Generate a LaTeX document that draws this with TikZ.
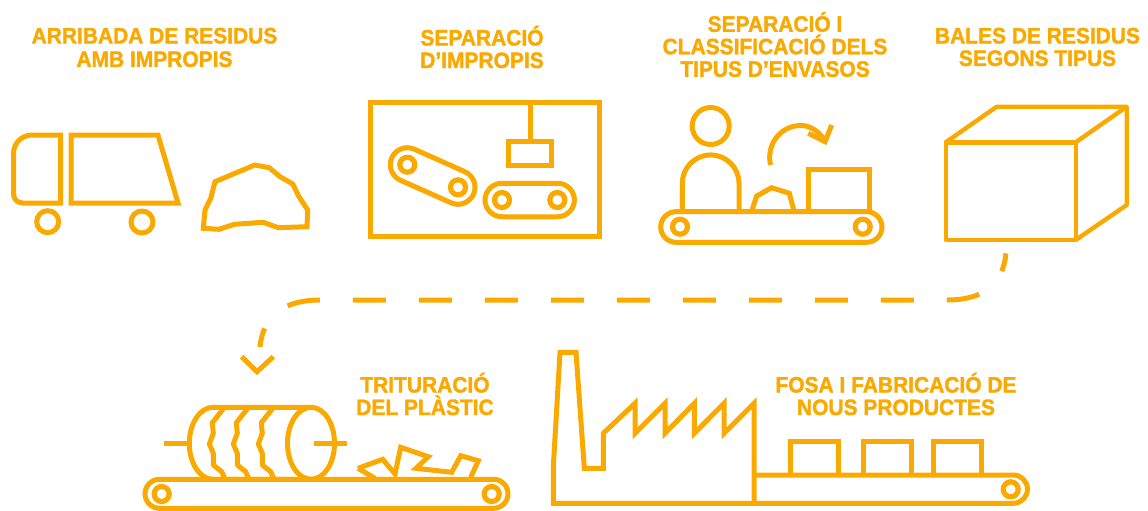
\documentclass[tikz,border=0pt]{standalone}
\usepackage{fontspec}
\setmainfont[BoldFeatures={FakeBold=1.6,FakeStretch=0.94}]{Liberation Sans}
\definecolor{ambre}{HTML}{FAA900}
\tikzset{
  ln/.style={draw=ambre,line width=5pt,line join=miter,fill=none},
  belt/.style={draw=ambre,line width=5pt,inner sep=0pt,outer sep=0pt,rounded corners=#1},
  pulley/.style={circle,draw=ambre,line width=5.2pt,inner sep=0pt,outer sep=0pt,minimum size=15pt},
  title/.style={text=ambre,font=\fontsize{22.3}{22.5}\selectfont\bfseries,align=center,inner sep=0pt}
}
\begin{document}
\begin{tikzpicture}[x=1pt,y=-1pt]
\useasboundingbox (0,0) rectangle (1148,511);
% titles
\node[title] (t1) at (154.5,47.5) {ARRIBADA DE RESIDUS\\[1pt]AMB IMPROPIS};
\node[title] (t2) at (482,47) {SEPARACIÓ\\D’IMPROPIS};
\node[title] (t3) at (775,44.5) {SEPARACIÓ I\\CLASSIFICACIÓ DELS\\TIPUS D’ENVASOS};
\node[title] (t4) at (1037.5,47) {BALES DE RESIDUS\\SEGONS TIPUS};
\node[title] (t5) at (425,394) {TRITURACIÓ\\DEL PLÀSTIC};
\node[title] (t6) at (896,394) {FOSA I FABRICACIÓ DE\\NOUS PRODUCTES};
% truck
\draw[ln] (60.5,135) -- (32,135) arc[start angle=270,end angle=180,radius=18.5] -- (13.5,194) arc[start angle=180,end angle=90,radius=9] -- (60.5,203) -- cycle;
\draw[ln] (71,135) -- (158,135) -- (178,203) -- (71,203) -- cycle;
\node[circle,draw=ambre,line width=5pt,minimum size=22pt,inner sep=0pt,outer sep=0pt] (w1) at (47.7,221.7) {};
\node[circle,draw=ambre,line width=5pt,minimum size=22pt,inner sep=0pt,outer sep=0pt] (w2) at (142,222) {};
% heap
\draw[ln] (203.3,228.3) -- (205,210) -- (210.7,198.3) -- (215,181.7) -- (233.3,174) -- (255,165) -- (269.3,167.7) -- (280,176.7) -- (292.7,184) -- (299,196.7) -- (307.7,210) -- (307,226.7) -- (278.3,227.7) -- (263.3,222.3) -- (234.3,224.3) -- (219,229.3) -- cycle;
% separator
\draw[ln] (370.7,102.3) rectangle (599,236);
\node[draw=ambre,line width=5pt,minimum width=43.4pt,minimum height=24.3pt,inner sep=0pt,outer sep=0pt] (claw) at (530,153.2) {};
\draw[ln] (530,102.3) -- (claw.north);
\node[belt=17pt,rotate=-24,minimum width=89.5pt,minimum height=34pt] (b1) at (432.65,176) {};
\node[pulley] (p1) at (407.3,164.7) {};
\node[pulley] (p2) at (458,187.3) {};
\node[belt=17pt,minimum width=89.5pt,minimum height=33.5pt] (b2) at (529.7,200) {};
\node[pulley] (p3) at (502,200) {};
\node[pulley] (p4) at (557.3,200) {};
% sorter
\node[circle,draw=ambre,line width=5pt,minimum size=37pt,inner sep=0pt,outer sep=0pt] (head) at (710.7,126) {};
\draw[ln] (682.3,211.7) -- (682.3,183.3) arc[start angle=180,end angle=360,radius=28.35] -- (739,211.7);
\node[belt=15.3pt,minimum width=221.3pt,minimum height=30.6pt] (b3) at (771.35,227) {};
\node[pulley] (p5) at (680,226.7) {};
\node[pulley] (p6) at (862.7,226.7) {};
\draw[ln] (751.7,211) -- (756.7,196) -- (771.7,187.7) -- (789.3,193.3) -- (794,211);
\draw[ln] (808.3,211.7) -- (808.3,169) -- (869,169) -- (869,211.7);
\draw[ln] (770.5,165) .. controls (766,145) and (780,126) .. (800,125.5) .. controls (810,125) and (820,132) .. (825,141);
\draw[ln] (831.7,125) -- (825,141.7) -- (808.3,133.3);
% cube
\draw[ln,line width=4.4pt,line join=round] (945.7,142.3) rectangle (1075.7,240);
\draw[ln,line width=4.4pt,line join=round] (945.7,142.3) -- (996.7,106.7) -- (1126.7,106.7) -- (1075.7,142.3);
\draw[ln,line width=4.4pt,line join=round] (1126.7,106.7) -- (1126.7,205) -- (1075.7,240);
% flow
\coordinate (fa) at (1006,253.3);
\coordinate (fb) at (260,347);
\draw[ln,dash pattern=on 33pt off 33pt,dash phase=14.5pt] (fa) .. controls (1003,283) and (985,300) .. (947,300) -- (320,300) .. controls (285,300) and (263,315) .. (fb);
\draw[ln] (241.7,356.7) -- (257,371.7) -- (273.3,356.7);
% shredder
\node[belt=14.5pt,minimum width=363pt,minimum height=29pt] (b4) at (326.5,493.8) {};
\node[pulley] (p7) at (161.7,494) {};
\node[pulley] (p8) at (491.7,494) {};
\draw[ln] (311,407.3) -- (213,407.3) arc[start angle=270,end angle=90,x radius=23.7,y radius=36] -- (311,479.3);
\draw[ln] (311,443.3) ellipse[x radius=23.5,y radius=36];
\draw[ln] (164,443.7) -- (187,443.7);
\draw[ln] (314.3,443.7) -- (347.3,443.7);
\foreach \dx in {0,24,49}{
  \draw[ln,line join=round,xshift=\dx pt] (224,408) -- (212.3,422.7) -- (213.3,433.3) -- (209.3,444) -- (213.3,453.3) -- (213.3,465) -- (221.7,471.7) -- (225,479);
}
\draw[ln] (358,468.3) -- (382.7,459.3) -- (395,474) -- (400.7,447.3) -- (428.3,456.7) -- (416,468.3) -- (451.7,472.3) -- (460.7,455.7) -- (478.3,460.7) -- (470.7,477.3);
\draw[ln] (358,468.3) -- (375,478.3);
% factory
\draw[ln] (553.3,503.3) -- (553.3,466.7) -- (560,352.3) -- (576,352.3) -- (584.3,468.3) -- (603.3,468.3) -- (603.3,433.3) -- (635,403.3) -- (635,433.3) -- (665,403.3) -- (665,433.3) -- (694.3,403.3) -- (694.3,433.3) -- (724,403.3) -- (724,433.3) -- (754,403.3) -- (754,503.3) -- cycle;
\draw[ln] (754,475) -- (1013.3,475) arc[start angle=-90,end angle=90,radius=14.15] -- (754,503.3);
\node[pulley] (p9) at (1010.7,489.3) {};
\draw[ln] (790,475) -- (790,441) -- (838.3,441) -- (838.3,475);
\draw[ln] (863.3,475) -- (863.3,441) -- (911,441) -- (911,475);
\draw[ln] (933.3,475) -- (933.3,441) -- (981,441) -- (981,475);
\end{tikzpicture}
\end{document}
